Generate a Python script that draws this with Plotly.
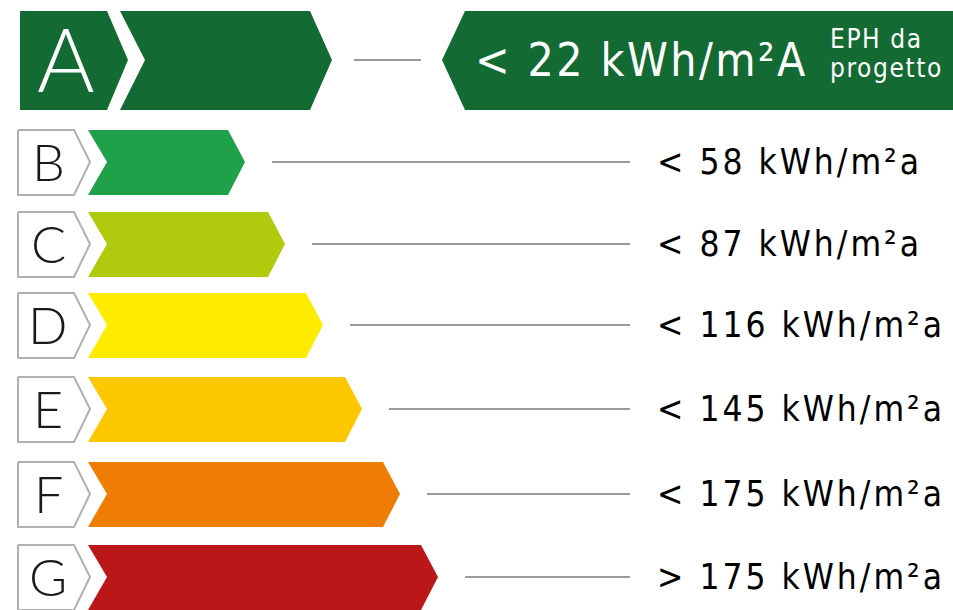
import plotly.graph_objects as go

# ---- data ----
classes = ["A", "B", "C", "D", "E", "F", "G"]
colors = ["#136A33", "#21A04A", "#B0CA0E", "#FDEB00", "#FEC800", "#EF7D03", "#BB1719"]
bar_len = [332, 245, 285, 323, 362, 400, 438]          # arrow tip position
limits = ["< 22 kWh/m²A", "< 58 kWh/m²a", "< 87 kWh/m²a", "< 116 kWh/m²a",
          "< 145 kWh/m²a", "< 175 kWh/m²a", "> 175 kWh/m²a"]
note_A = ["EPH da", "progetto"]

# ---- layout constants ----
W, H = 953, 610
centers = [60, 162, 244, 325, 409, 494, 577]
LINE_END = 630
LABEL_X = 655
TXT_FONT = "DejaVu Sans Condensed, DejaVu Sans"

fig = go.Figure()

def poly(xs, ys, fill, line_color=None, line_w=0):
    fig.add_trace(go.Scatter(
        x=xs + [xs[0]], y=ys + [ys[0]], mode="lines", fill="toself",
        fillcolor=fill, line=dict(color=line_color or fill, width=line_w),
        hoverinfo="skip", showlegend=False))

def seg(x0, x1, y):
    fig.add_trace(go.Scatter(x=[x0, x1], y=[y, y], mode="lines",
                             line=dict(color="#9A9A9A", width=2),
                             hoverinfo="skip", showlegend=False))

def spaced(t, px):
    return f'<span style="letter-spacing:{px}px">{t}</span>'

for i, cls in enumerate(classes):
    c = centers[i]
    tip = bar_len[i]
    if i == 0:
        top, bot = c - 49, c + 50
        poly([20, 107, 128, 107, 20], [top, top, c, bot, bot], colors[i])
        poly([120, tip - 22, tip, tip - 22, 120, 145], [top, top, c, bot, bot, c], colors[i])
        poly([465, W, W, 465, 442], [top, top, bot, bot, c], colors[i])
        seg(354, 421, c)
        fig.add_annotation(x=66, y=c - 2, text=cls, showarrow=False,
                           font=dict(family="Lato", size=88, color="white", weight=300),
                           xanchor="center", yanchor="middle")
        fig.add_annotation(x=473, y=c, text=spaced(limits[i], 2.4), showarrow=False,
                           font=dict(family=TXT_FONT, size=46, color="white"),
                           xanchor="left", yanchor="middle")
        fig.add_annotation(x=828, y=c - 21, text=spaced(note_A[0], 1.6), showarrow=False,
                           font=dict(family=TXT_FONT, size=26, color="white"),
                           xanchor="left", yanchor="middle")
        fig.add_annotation(x=828, y=c + 8, text=spaced(note_A[1], 1.6), showarrow=False,
                           font=dict(family=TXT_FONT, size=26, color="white"),
                           xanchor="left", yanchor="middle")
    else:
        top, bot = c - 32, c + 33
        poly([18, 74, 90, 74, 18], [top, top, c, bot, bot], "white",
             line_color="#B0B0B0", line_w=2)
        poly([88, tip - 17, tip, tip - 17, 88, 107], [top, top, c, bot, bot, c], colors[i])
        seg(tip + 27, LINE_END, c)
        fig.add_annotation(x=48, y=c - 1, text=cls, showarrow=False,
                           font=dict(family="Lato", size=52, color="#1a1a1a", weight=300),
                           xanchor="center", yanchor="middle")
        fig.add_annotation(x=LABEL_X, y=c, text=spaced(limits[i], 3.0), showarrow=False,
                           font=dict(family=TXT_FONT, size=35, color="black"),
                           xanchor="left", yanchor="middle")

fig.update_layout(
    width=W, height=H, margin=dict(l=0, r=0, t=0, b=0),
    paper_bgcolor="white", plot_bgcolor="white",
    xaxis=dict(range=[0, W], visible=False, fixedrange=True),
    yaxis=dict(range=[H, 0], visible=False, fixedrange=True),
    showlegend=False,
)
fig.write_html("out.html", config={"displayModeBar": False},
               post_script="document.body.style.margin='0px';")
